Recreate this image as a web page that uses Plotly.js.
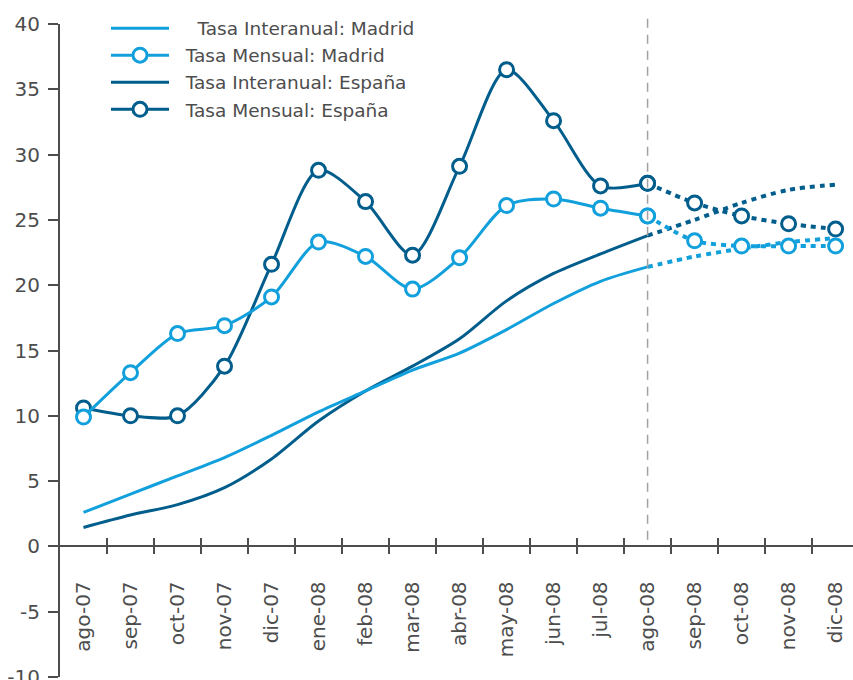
<!DOCTYPE html>
<html>
<head>
<meta charset="utf-8">
<script src="https://cdn.plot.ly/plotly-3.0.1.min.js"></script>
<style>html,body{margin:0;padding:0;background:#fff;}#chart{width:853px;height:680px;}</style>
</head>
<body>
<div id="chart"></div>
<script>
// ---- data ----
const categories = ['ago-07','sep-07','oct-07','nov-07','dic-07','ene-08','feb-08','mar-08','abr-08','may-08','jun-08','jul-08','ago-08','sep-08','oct-08','nov-08','dic-08'];
const madridInteranual = [2.6, 4.0, 5.4, 6.8, 8.5, 10.3, 11.9, 13.5, 14.8, 16.6, 18.6, 20.3, 21.4, 22.2, 22.8, 23.3, 23.6];
const madridMensual    = [9.9, 13.3, 16.3, 16.9, 19.1, 23.3, 22.2, 19.7, 22.1, 26.1, 26.6, 25.9, 25.3, 23.4, 23.0, 23.0, 23.0];
const espanaInteranual = [1.45, 2.4, 3.2, 4.5, 6.7, 9.6, 11.9, 13.8, 15.9, 18.8, 20.9, 22.4, 23.8, 25.0, 26.3, 27.3, 27.7];
const espanaMensual    = [10.6, 10.0, 10.0, 13.8, 21.6, 28.8, 26.4, 22.3, 29.1, 36.5, 32.6, 27.6, 27.8, 26.3, 25.3, 24.7, 24.3];
const seriesNames = ['Tasa Interanual: Madrid','Tasa Mensual: Madrid','Tasa Interanual: España','Tasa Mensual: España'];
const yTickValues = [-10, -5, 0, 5, 10, 15, 20, 25, 30, 35, 40];
const yTickLabels = ['-10', '-5', '0', '5', '10', '15', '20', '25', '30', '35', '40'];
const forecastStart = 'ago-08';

// ---- styling ----
const lightBlue = '#12a0dc';
const darkBlue = '#005d8c';
const textColor = '#4d4d4d';
const fontFamily = 'DejaVu Sans, sans-serif';
const split = categories.indexOf(forecastStart);
const NB = '\u00a0';

function makeTraces(name, values, color, withMarkers, rank, indent) {
  const mode = withMarkers ? 'lines+markers' : 'lines';
  const marker = {symbol: 'circle', size: 14, color: '#ffffff', line: {color: color, width: 3}};
  const solid = {
    type: 'scatter', mode: mode, name: NB.repeat(indent) + name, legendrank: rank,
    x: categories.slice(0, split + 1), y: values.slice(0, split + 1),
    line: {color: color, width: 3, shape: 'spline', smoothing: 0.8},
    marker: marker, hoverinfo: 'x+y+name'
  };
  const dotted = {
    type: 'scatter', mode: mode, name: name, showlegend: false,
    x: categories.slice(split), y: values.slice(split),
    line: {color: color, width: 4, shape: 'spline', smoothing: 0.8, dash: '5px,5px'},
    marker: marker, hoverinfo: 'x+y+name'
  };
  return [solid, dotted];
}

const data = [].concat(
  makeTraces(seriesNames[2], espanaInteranual, darkBlue, false, 3, 2),
  makeTraces(seriesNames[3], espanaMensual, darkBlue, true, 4, 2),
  makeTraces(seriesNames[0], madridInteranual, lightBlue, false, 1, 4),
  makeTraces(seriesNames[1], madridMensual, lightBlue, true, 2, 2)
);

const plotH = 680 - 24 - 3;
const layout = {
  width: 853, height: 680,
  margin: {l: 60, r: 0, t: 24, b: 3, pad: 0},
  paper_bgcolor: '#ffffff', plot_bgcolor: '#ffffff',
  font: {family: fontFamily, size: 20, color: textColor},
  showlegend: true,
  legend: {
    x: 0.058, y: 1.022, xanchor: 'left', yanchor: 'top',
    bgcolor: 'rgba(255,255,255,0)', borderwidth: 0,
    font: {family: fontFamily, size: 18.5, color: textColor},
    itemwidth: 58, traceorder: 'normal'
  },
  xaxis: {
    type: 'category', categoryorder: 'array', categoryarray: categories,
    range: [-0.5, 16.37],
    anchor: 'free', position: 0.2 - 8 / plotH,
    showline: false, showgrid: false, zeroline: false,
    ticks: 'inside', ticklen: 16, tickwidth: 2, tickcolor: textColor,
    tickson: 'boundaries', tickangle: -90,
    ticklabelstandoff: 22,
    tickfont: {family: fontFamily, size: 20, color: textColor}
  },
  yaxis: {
    range: [-10, 40], tickmode: 'array', tickvals: yTickValues, ticktext: yTickLabels,
    showline: true, linecolor: textColor, linewidth: 2,
    ticks: 'outside', ticklen: 10, tickwidth: 2, tickcolor: textColor,
    showgrid: false,
    zeroline: true, zerolinecolor: textColor, zerolinewidth: 2,
    ticklabelstandoff: 4, ticklabeloverflow: 'allow',
    tickfont: {family: fontFamily, size: 20, color: textColor}
  },
  shapes: [{
    type: 'line', xref: 'x', yref: 'paper',
    x0: forecastStart, x1: forecastStart, y0: 0.21, y1: 1.018,
    line: {color: '#a0a0a0', width: 1.5, dash: '9px,7px'}
  }]
};

Plotly.newPlot('chart', data, layout, {displayModeBar: false, staticPlot: true});
</script>
</body>
</html>
